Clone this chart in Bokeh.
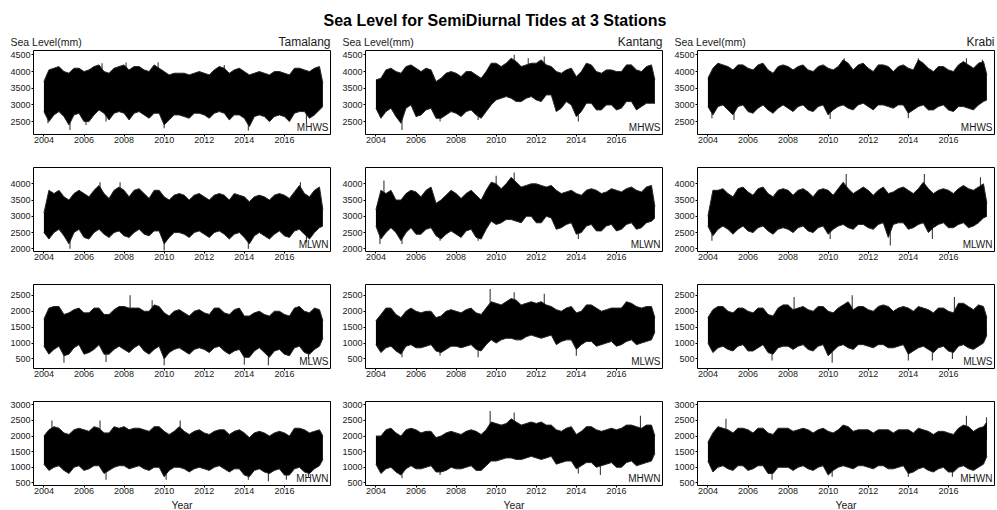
import numpy as np
from bokeh.plotting import figure
from bokeh.models import FixedTicker, Label, Range1d
from bokeh.layouts import column, row
from bokeh.embed import file_html
from bokeh.resources import INLINE

# ---------------- data ----------------
# time points: start of each quarter 2004.00 ... 2017.75, plus last observation
quarters = [2004 + q / 4 for q in range(56)] + [2017.92]

stations = ["Tamalang", "Kantang", "Krabi"]
levels = ["MHWS", "MLWN", "MLWS", "MHWN"]
year_ticks = [2004, 2006, 2008, 2010, 2012, 2014, 2016]
level_ticks = {
    "MHWS": [2500, 3000, 3500, 4000, 4500],
    "MLWN": [2000, 2500, 3000, 3500, 4000],
    "MLWS": [500, 1000, 1500, 2000, 2500],
    "MHWN": [500, 1000, 1500, 2000, 2500, 3000],
}
level_limits = {
    "MHWS": (2113, 4631),
    "MLWN": (1917, 4502),
    "MLWS": (199, 2842),
    "MHWN": (417, 3105),
}

# upper / lower envelope of the sea-level trace per quarter (mm)
tamalang_mhws_hi = [3700,4050,4100,4150, 4000,3950,4100,4100, 4000,4050,4150,4200, 4000,3950,4100,4150,
                    4200,4050,4150,4150, 4050,4000,4200,4100, 4000,3900,3950,3950, 3950,3900,3950,4000,
                    3950,3900,4050,4150, 4100,3950,4050,4100, 4000,3900,3950,4000, 3950,3900,4000,4000,
                    3950,3900,4100,4100, 4050,4000,4100,4150, 3650]
tamalang_mhws_lo = [2800,2500,2700,2800, 2650,2400,2700,2750, 2500,2500,2700,2850, 2750,2550,2750,2800,
                    2750,2550,2750,2800, 2700,2600,2750,2750, 2400,2550,2700,2700, 2650,2600,2750,2750,
                    2700,2600,2750,2800, 2750,2550,2700,2700, 2600,2350,2650,2700, 2650,2500,2650,2700,
                    2650,2500,2750,2800, 2800,2600,2700,2850, 2950]
kantang_mhws_hi = [3750,3800,4050,4100, 4000,3950,4150,4200, 4100,4000,4100,4050, 3700,3800,3950,4000,
                   3950,3850,4000,4000, 3900,3800,4000,4250, 4250,4150,4250,4400, 4300,4150,4200,4250,
                   4250,4350,4200,4150, 4000,3950,4050,4100, 3850,4000,4250,4200, 4000,3950,4050,4050,
                   4000,4000,4200,4200, 4050,4000,4150,4200, 3750]
kantang_mhws_lo = [2900,2600,2800,2900, 2650,2450,2900,3000, 2650,2700,2850,2900, 2600,2600,2700,2800,
                   2750,2650,2800,2850, 2700,2600,2800,3000, 3150,3200,3250,3200, 3100,3100,3200,3250,
                   3150,3100,3300,3300, 2800,2900,3100,3000, 2650,2800,3050,3050, 2850,2850,3000,3000,
                   2850,2900,3100,3100, 2850,2950,3050,3050, 3050]
krabi_mhws_hi = [3800,4100,4250,4200, 4150,4050,4200,4200, 4100,4050,4200,4250, 4050,3950,4150,4200,
                 4150,4050,4150,4200, 4050,4000,4150,4200, 4100,4050,4150,4350, 4250,4050,4200,4250,
                 4100,4000,4200,4200, 4150,4000,4150,4200, 4100,4050,4350,4250, 4100,4000,4150,4150,
                 4050,4000,4200,4300, 4200,4100,4250,4300, 3900]
krabi_mhws_lo = [2950,2700,2950,3000, 2850,2700,2950,3000, 2800,2750,2900,3000, 2850,2750,2900,3000,
                 2900,2800,2950,3000, 2850,2800,2950,3000, 2700,2850,2950,3000, 2900,2850,3000,3050,
                 2950,2850,3000,3000, 2950,2900,3000,3000, 2750,2850,2950,3000, 2850,2850,2950,3000,
                 2850,2800,2950,2950, 2900,2850,3000,3100, 3150]

tamalang_mlwn_hi = [3100,3800,3700,3800, 3600,3500,3700,3800, 3700,3600,3800,3950, 3700,3550,3800,3900,
                    3800,3600,3800,3850, 3700,3550,3800,3800, 3600,3500,3650,3700, 3650,3500,3650,3700,
                    3600,3500,3650,3700, 3650,3500,3700,3650, 3600,3450,3600,3650, 3600,3500,3650,3700,
                    3650,3550,3750,3950, 3700,3600,3800,3900, 3200]
tamalang_mlwn_lo = [2500,2300,2500,2600, 2400,2150,2500,2600, 2350,2300,2500,2600, 2450,2350,2500,2550,
                    2400,2350,2500,2600, 2450,2400,2550,2550, 2150,2350,2500,2500, 2450,2350,2500,2550,
                    2450,2350,2500,2550, 2450,2300,2450,2500, 2350,2150,2400,2500, 2400,2300,2450,2550,
                    2400,2350,2550,2600, 2450,2300,2500,2650, 2700]
kantang_mlwn_hi = [3200,3800,3700,3800, 3500,3500,3700,3800, 3750,3600,3800,3900, 3400,3500,3650,3800,
                   3700,3550,3700,3800, 3650,3500,3800,4050, 4000,3850,4000,4200, 4050,3900,3950,4000,
                   4000,3950,3900,3950, 3800,3700,3750,3800, 3700,3650,3800,3850, 3800,3700,3750,3850,
                   3800,3750,3850,3900, 3800,3750,3900,3950, 3300]
kantang_mlwn_lo = [2700,2300,2500,2650, 2500,2250,2500,2650, 2450,2450,2600,2650, 2400,2300,2450,2550,
                   2450,2350,2550,2600, 2350,2300,2600,2850, 2750,2800,2900,2900, 2850,2800,3000,3000,
                   2800,2800,3000,2950, 2600,2650,2750,2800, 2450,2500,2700,2750, 2550,2550,2700,2750,
                   2550,2600,2750,2800, 2600,2650,2800,2850, 2950]
krabi_mlwn_hi = [3000,3800,3800,3850, 3700,3600,3850,3900, 3750,3650,3850,3900, 3700,3600,3800,3850,
                 3800,3650,3800,3850, 3750,3600,3800,3850, 3800,3650,3850,4050, 3850,3700,3800,3900,
                 3800,3650,3800,3900, 3700,3750,3850,3900, 3800,3700,3850,4050, 3850,3700,3800,3850,
                 3800,3700,3850,3950, 3850,3800,3900,4000, 3400]
krabi_mlwn_lo = [2700,2400,2600,2700, 2600,2450,2600,2700, 2550,2500,2650,2700, 2550,2450,2600,2650,
                 2600,2500,2650,2700, 2550,2500,2650,2700, 2450,2600,2700,2750, 2650,2600,2750,2750,
                 2650,2600,2750,2800, 2350,2750,2800,2800, 2600,2650,2750,2800, 2500,2650,2750,2800,
                 2650,2650,2750,2800, 2650,2700,2800,2950, 3000]

tamalang_mlws_hi = [1750,2100,2150,2150, 1900,1950,2050,2100, 1950,1950,2100,2100, 1900,1900,2050,2150,
                    2150,2100,2100,2100, 2000,2000,2200,2150, 1950,1850,2000,2050, 1950,1850,2000,2050,
                    1950,1900,2100,2100, 1950,1900,2050,2100, 1850,1850,1950,2000, 1900,1850,2000,2000,
                    1900,1850,2100,2150, 2000,1950,2100,2050, 1700]
tamalang_mlws_lo = [900,650,800,900, 600,650,850,950, 650,700,800,950, 650,650,800,900,
                    800,700,850,950, 750,650,800,900, 500,700,800,850, 750,650,800,850,
                    800,700,850,900, 750,650,750,800, 550,550,750,850, 700,550,750,800,
                    650,600,850,900, 700,650,800,900, 1150]
kantang_mlws_hi = [1700,1900,2100,2100, 1900,1800,2000,2100, 2000,1950,2000,2000, 1800,1850,2000,2050,
                   2000,1950,2050,2100, 1950,1900,2100,2300, 2250,2200,2300,2400, 2350,2200,2250,2300,
                   2250,2300,2200,2150, 2050,2000,2100,2150, 1950,2000,2200,2200, 2100,2000,2050,2100,
                   2100,2100,2300,2250, 2150,2100,2150,2150, 1800]
kantang_mlws_lo = [950,700,850,900, 750,650,900,950, 850,850,900,950, 750,700,800,900,
                   900,850,900,950, 800,750,950,1100, 1000,1100,1150,1150, 1100,1100,1200,1250,
                   1200,1150,1200,1250, 950,1050,1100,1100, 800,950,1050,1050, 900,950,1000,1050,
                   900,950,1050,1100, 950,1000,1050,1100, 1350]
krabi_mlws_hi = [1800,2050,2150,2150, 2000,1950,2100,2100, 2000,1950,2100,2100, 1900,1850,2100,2200,
                 2200,2050,2100,2150, 2050,2000,2150,2150, 2000,1950,2100,2200, 2300,2050,2150,2150,
                 2050,2000,2150,2200, 2150,2000,2100,2150, 2100,2000,2150,2100, 2050,1950,2100,2100,
                 2000,1950,2250,2250, 2150,2050,2200,2150, 1800]
krabi_mlws_lo = [1000,700,850,900, 800,750,900,950, 750,750,850,950, 700,650,850,900,
                 900,800,900,950, 800,750,900,950, 600,750,900,950, 850,800,950,950,
                 900,850,950,950, 850,850,900,950, 650,750,850,900, 800,700,850,900,
                 750,700,900,950, 850,800,900,1000, 1250]

tamalang_mhwn_hi = [2000,2200,2300,2250, 2100,2050,2200,2250, 2200,2150,2300,2250, 2100,2100,2300,2250,
                    2300,2200,2250,2250, 2200,2150,2300,2300, 2150,2050,2150,2300, 2150,2050,2150,2200,
                    2100,2050,2150,2200, 2200,2050,2150,2200, 2100,1950,2100,2150, 2100,2000,2100,2150,
                    2100,2000,2250,2250, 2200,2100,2150,2200, 2000]
tamalang_mhwn_lo = [1100,900,1000,1050, 900,800,1000,1050, 900,950,1050,1050, 800,900,1000,1050,
                    1050,950,1000,1050, 950,900,1000,1000, 700,900,1000,1000, 950,850,950,1000,
                    950,900,1000,1050, 950,850,950,950, 750,700,900,950, 850,800,900,950,
                    750,750,950,1000, 850,800,950,1050, 1250]
kantang_mhwn_hi = [2000,2000,2200,2250, 2100,2000,2200,2250, 2200,2100,2150,2150, 1950,2000,2100,2150,
                   2100,2050,2150,2200, 2150,2050,2200,2450, 2400,2350,2400,2550, 2450,2350,2400,2450,
                   2400,2450,2350,2350, 2200,2150,2250,2300, 2050,2150,2300,2300, 2200,2150,2200,2250,
                   2200,2250,2350,2350, 2300,2250,2350,2350, 2000]
kantang_mhwn_lo = [1100,800,950,1000, 850,750,950,1050, 950,950,1000,1050, 850,850,900,1000,
                   950,950,1000,1050, 900,900,1050,1200, 1200,1250,1300,1300, 1250,1250,1300,1350,
                   1300,1250,1300,1350, 1100,1150,1200,1200, 950,1050,1150,1150, 1000,1050,1100,1150,
                   1000,1000,1150,1200, 1050,1100,1150,1200, 1450]
krabi_mhwn_hi = [1800,2100,2300,2250, 2200,2100,2250,2250, 2200,2100,2250,2250, 2100,2050,2250,2250,
                 2250,2150,2200,2250, 2200,2100,2200,2250, 2150,2100,2200,2350, 2300,2150,2200,2200,
                 2200,2100,2200,2200, 2200,2100,2200,2200, 2200,2100,2250,2200, 2150,2050,2150,2150,
                 2100,2050,2250,2350, 2300,2150,2250,2300, 2450]
krabi_mhwn_lo = [1200,850,1000,1050, 950,900,1050,1050, 900,950,1050,1050, 800,800,1000,1000,
                 1000,900,1000,1050, 950,900,1000,1050, 750,900,1000,1050, 1000,950,1050,1050,
                 1000,950,1050,1050, 950,950,1000,1050, 800,850,950,1000, 900,850,950,1000,
                 850,850,1000,1050, 950,900,1000,1100, 1350]

# isolated extreme readings (time, value) sticking out of the band
tamalang_mhws_spk_t = [2004.2, 2005.3, 2006.1, 2007.1, 2010.0, 2014.2, 2017.1, 2006.9, 2008.1, 2009.7, 2013.0]
tamalang_mhws_spk_v = [2450, 2250, 2400, 2500, 2300, 2230, 2450, 4250, 4270, 4280, 4200]
kantang_mhws_spk_t = [2005.3, 2007.2, 2009.1, 2014.1, 2010.9, 2012.4, 2011.6]
kantang_mhws_spk_v = [2250, 2500, 2550, 2500, 4500, 4450, 4400]
krabi_mhws_spk_t = [2004.2, 2005.3, 2010.1, 2014.0, 2010.8, 2014.5, 2016.9, 2017.7]
krabi_mhws_spk_v = [2600, 2550, 2580, 2600, 4400, 4400, 4400, 4350]
tamalang_mlwn_spk_t = [2005.3, 2010.0, 2014.2, 2017.1, 2006.8, 2007.8, 2016.8]
tamalang_mlwn_spk_v = [2000, 1950, 2000, 2200, 4050, 4050, 4050]
kantang_mlwn_spk_t = [2004.2, 2005.3, 2007.2, 2009.1, 2014.1, 2004.4, 2010.9, 2010.0]
kantang_mlwn_spk_v = [2150, 2150, 2250, 2250, 2300, 4100, 4350, 4250]
krabi_mlwn_spk_t = [2004.2, 2010.1, 2013.1, 2015.2, 2010.9, 2014.8, 2017.6]
krabi_mlwn_spk_v = [2250, 2300, 2100, 2300, 4300, 4300, 4200]
tamalang_mlws_spk_t = [2005.0, 2007.1, 2010.0, 2014.0, 2015.2, 2017.2, 2008.3, 2009.4]
tamalang_mlws_spk_v = [380, 400, 300, 320, 300, 500, 2500, 2350]
kantang_mlws_spk_t = [2005.3, 2007.2, 2009.1, 2014.0, 2009.7, 2010.9, 2012.4]
kantang_mlws_spk_v = [550, 600, 550, 600, 2700, 2600, 2550]
krabi_mlws_spk_t = [2007.2, 2010.2, 2014.0, 2015.2, 2016.2, 2008.3, 2011.2, 2016.3]
krabi_mlws_spk_v = [450, 380, 450, 450, 500, 2450, 2500, 2450]
tamalang_mhwn_spk_t = [2007.1, 2010.1, 2014.2, 2015.2, 2016.1, 2017.2, 2004.4, 2006.8, 2010.8]
tamalang_mhwn_spk_v = [600, 600, 600, 550, 600, 700, 2500, 2500, 2500]
kantang_mhwn_spk_t = [2005.3, 2007.2, 2014.1, 2015.2, 2009.7, 2010.9, 2017.2]
kantang_mhwn_spk_v = [650, 750, 800, 750, 2800, 2750, 2650]
krabi_mhwn_spk_t = [2007.2, 2010.2, 2014.0, 2016.2, 2004.9, 2016.9, 2017.9]
krabi_mhwn_spk_v = [600, 700, 700, 700, 2550, 2650, 2600]

series = {
    ("MHWS", "Tamalang"): (tamalang_mhws_hi, tamalang_mhws_lo, tamalang_mhws_spk_t, tamalang_mhws_spk_v),
    ("MHWS", "Kantang"): (kantang_mhws_hi, kantang_mhws_lo, kantang_mhws_spk_t, kantang_mhws_spk_v),
    ("MHWS", "Krabi"): (krabi_mhws_hi, krabi_mhws_lo, krabi_mhws_spk_t, krabi_mhws_spk_v),
    ("MLWN", "Tamalang"): (tamalang_mlwn_hi, tamalang_mlwn_lo, tamalang_mlwn_spk_t, tamalang_mlwn_spk_v),
    ("MLWN", "Kantang"): (kantang_mlwn_hi, kantang_mlwn_lo, kantang_mlwn_spk_t, kantang_mlwn_spk_v),
    ("MLWN", "Krabi"): (krabi_mlwn_hi, krabi_mlwn_lo, krabi_mlwn_spk_t, krabi_mlwn_spk_v),
    ("MLWS", "Tamalang"): (tamalang_mlws_hi, tamalang_mlws_lo, tamalang_mlws_spk_t, tamalang_mlws_spk_v),
    ("MLWS", "Kantang"): (kantang_mlws_hi, kantang_mlws_lo, kantang_mlws_spk_t, kantang_mlws_spk_v),
    ("MLWS", "Krabi"): (krabi_mlws_hi, krabi_mlws_lo, krabi_mlws_spk_t, krabi_mlws_spk_v),
    ("MHWN", "Tamalang"): (tamalang_mhwn_hi, tamalang_mhwn_lo, tamalang_mhwn_spk_t, tamalang_mhwn_spk_v),
    ("MHWN", "Kantang"): (kantang_mhwn_hi, kantang_mhwn_lo, kantang_mhwn_spk_t, kantang_mhwn_spk_v),
    ("MHWN", "Krabi"): (krabi_mhwn_hi, krabi_mhwn_lo, krabi_mhwn_spk_t, krabi_mhwn_spk_v),
}

TITLE = "Sea Level for SemiDiurnal Tides at 3 Stations"
Y_LABEL = "Sea Level(mm)"
X_LABEL = "Year"
FONT = "Liberation Sans"
TXT = "#1a1a1a"

# ---------------- layout ----------------
FW, FH = 297, 84
LEFT = 33
COL_W = [332, 332, 333]
XR = (2003.48, 2018.3)


def make_panel(level, station, ci, ri):
    right = COL_W[ci] - LEFT - FW
    top = 1 if ri == 0 else 13
    bottom = 13 if ri == 3 else 20
    lo_lim, hi_lim = level_limits[level]
    p = figure(width=COL_W[ci], height=top + FH + bottom,
               x_range=Range1d(*XR), y_range=Range1d(lo_lim, hi_lim),
               output_backend="svg", toolbar_location=None, tools="",
               min_border_left=LEFT, min_border_right=right,
               min_border_top=top, min_border_bottom=bottom)
    p.background_fill_color = "white"
    p.border_fill_color = "white"
    p.outline_line_color = "black"
    p.outline_line_width = 1
    p.grid.visible = False

    hi, lo, st, sv = series[(level, station)]
    mid = (np.array(hi) + np.array(lo)) / 2
    p.segment(x0=st, y0=np.interp(st, quarters, mid), x1=st, y1=sv,
              line_color="#3a3a3a", line_width=1.1)
    p.varea(x=quarters, y1=lo, y2=hi, fill_color="black", fill_alpha=1.0)
    p.line(x=quarters, y=hi, line_color="#262626", line_width=1)
    p.line(x=quarters, y=lo, line_color="#262626", line_width=1)

    for ax in (p.xaxis[0], p.yaxis[0]):
        ax.axis_line_color = None
        ax.major_tick_line_color = "black"
        ax.major_tick_in = 0
        ax.major_tick_out = 2
        ax.minor_tick_line_color = None
        ax.major_label_text_font = FONT
        ax.major_label_text_font_size = "9px"
        ax.major_label_text_color = TXT
    p.xaxis[0].ticker = FixedTicker(ticks=year_ticks)
    p.xaxis[0].major_label_standoff = 0
    p.yaxis[0].ticker = FixedTicker(ticks=level_ticks[level])
    p.yaxis[0].major_label_standoff = 1

    p.add_layout(Label(x=XR[1], y=lo_lim, x_offset=-2, y_offset=7, text=level,
                       text_align="right", text_baseline="middle",
                       text_font=FONT, text_font_size="10px", text_color=TXT))
    return p


def strip(height):
    s = figure(width=997, height=height, x_range=Range1d(0, 997), y_range=Range1d(height, 0),
               output_backend="svg", toolbar_location=None, tools="",
               x_axis_location=None, y_axis_location=None,
               min_border=0, min_border_left=0, min_border_right=0,
               min_border_top=0, min_border_bottom=0)
    s.outline_line_color = None
    s.grid.visible = False
    s.background_fill_color = "white"
    s.border_fill_color = "white"
    return s


header = strip(49)
header.add_layout(Label(x=494.5, y=20, text=TITLE, text_align="center", text_baseline="middle",
                        text_font=FONT, text_font_size="16px", text_font_style="bold",
                        text_color="black"))
footer = strip(12)
x0 = 0
for ci, st in enumerate(stations):
    header.add_layout(Label(x=x0 + 10, y=41.5, text=Y_LABEL, text_align="left", text_baseline="middle",
                            text_font=FONT, text_font_size="10.5px", text_color=TXT))
    header.add_layout(Label(x=x0 + LEFT + FW, y=41.5, text=st, text_align="right", text_baseline="middle",
                            text_font=FONT, text_font_size="12px", text_color=TXT))
    footer.add_layout(Label(x=x0 + LEFT + FW / 2, y=6, text=X_LABEL, text_align="center",
                            text_baseline="middle", text_font=FONT, text_font_size="10.5px",
                            text_color=TXT))
    x0 += COL_W[ci]

rows = []
for ri, level in enumerate(levels):
    rows.append(row(*[make_panel(level, st, ci, ri) for ci, st in enumerate(stations)]))

layout = column(header, *rows, footer)

with open("out.html", "w") as f:
    f.write(file_html(layout, INLINE))
